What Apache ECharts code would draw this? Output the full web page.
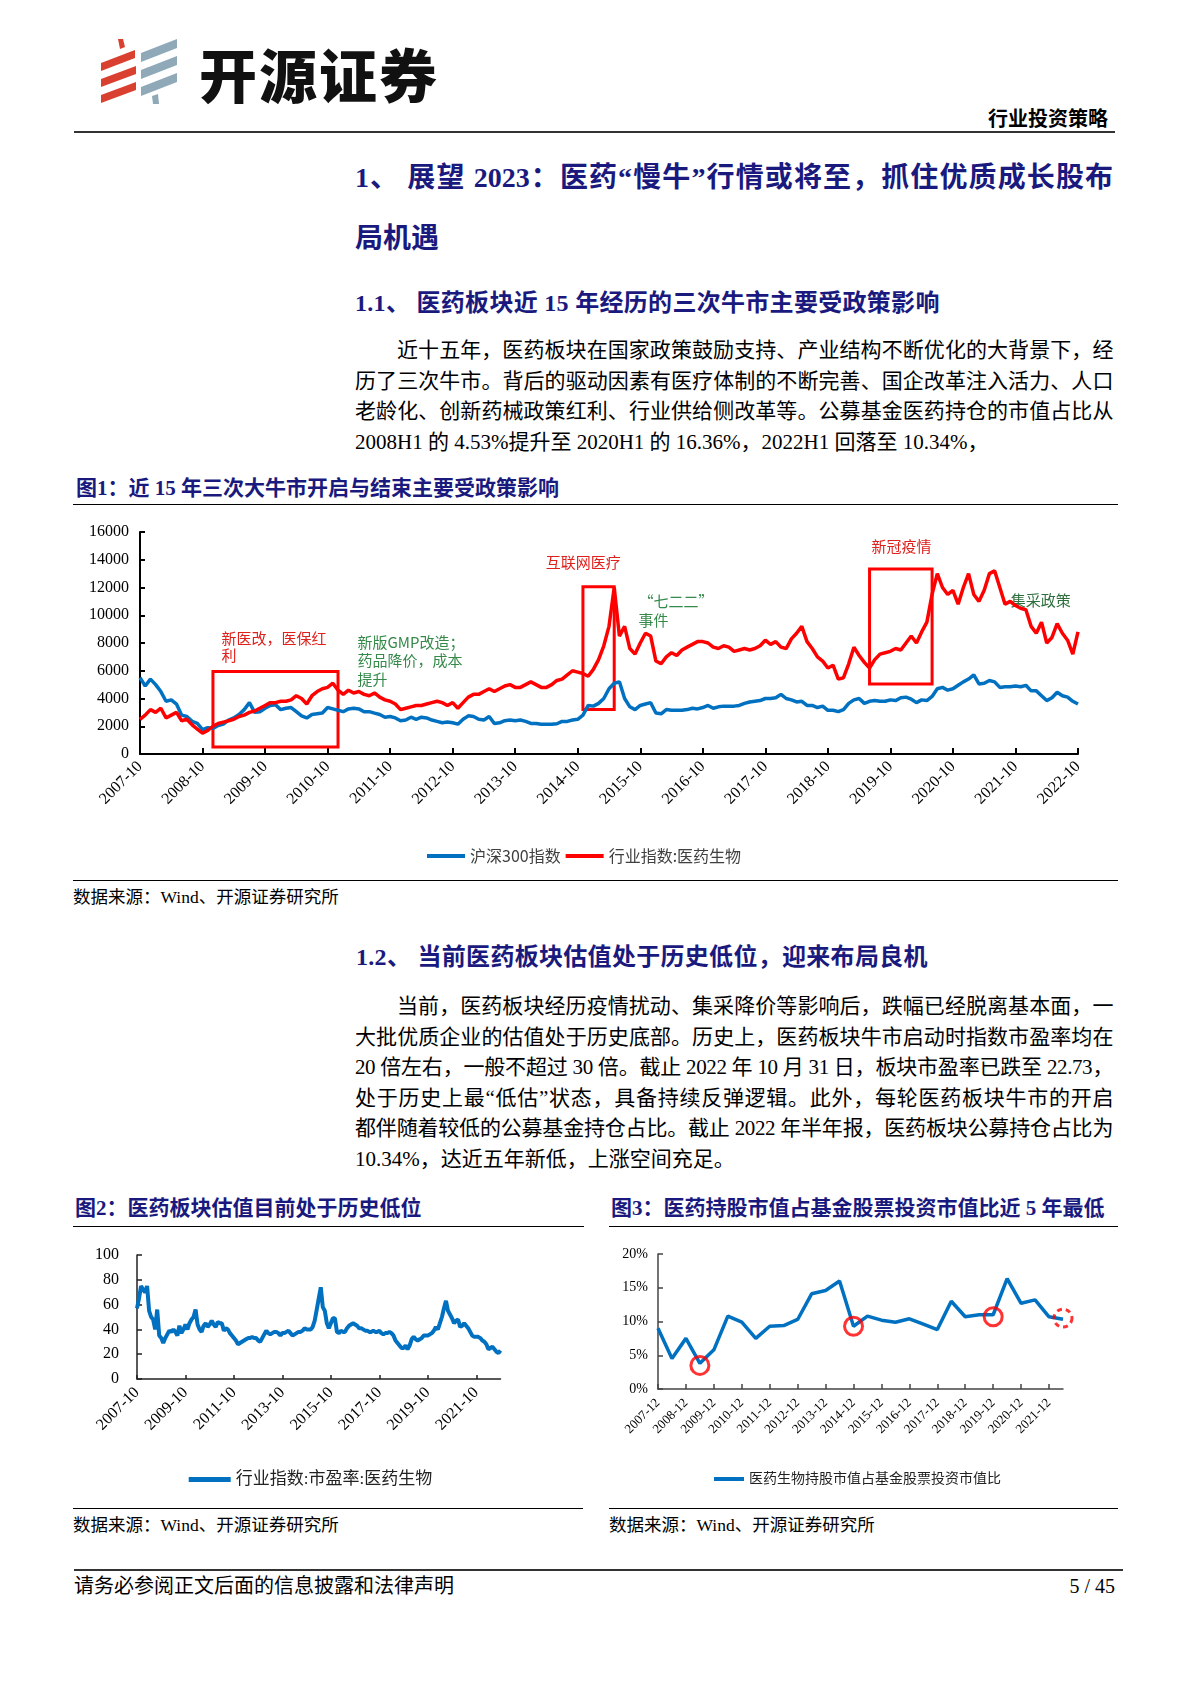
<!DOCTYPE html>
<html><head><meta charset="utf-8">
<script src="https://cdn.jsdelivr.net/npm/echarts@6/dist/echarts.min.js"></script>
<style>
html,body{margin:0;padding:0;background:#fff;}
#page{position:relative;width:1190px;height:1683px;overflow:hidden;background:#fff;font-family:"Liberation Serif","Noto Sans CJK SC",serif;color:#000;}
.abs{position:absolute;white-space:nowrap;}
.ln{position:absolute;left:355px;width:758px;height:30px;line-height:30px;font-size:21px;letter-spacing:-0.4px;}
.j{text-align:justify;text-align-last:justify;}
.navy{color:#1a1a7e;font-weight:bold;}
.rule{position:absolute;height:0;border-top:1.5px solid #000;}
.chart{position:absolute;}
</style></head>
<body><div id="page">
<svg class="abs" style="left:101px;top:39px" width="76" height="65" viewBox="0 0 76 65">
 <polygon points="17,0 22,0 24,8 19,10" fill="#d9402f"/>
 <polygon points="0,24 34,11 34,19 0,32" fill="#d9402f"/>
 <polygon points="0,40 35,27 35,35 0,48" fill="#d9402f"/>
 <polygon points="0,56 35,43 35,51 0,64" fill="#d9402f"/>
 <polygon points="40,14 76,0 76,9 40,23" fill="#8fa9b8"/>
 <polygon points="40,31 76,17 76,26 40,40" fill="#8fa9b8"/>
 <polygon points="40,48 76,34 76,43 40,57" fill="#8fa9b8"/>
 <polygon points="51,57 57,55 58,65 52,65" fill="#8fa9b8"/>
</svg>
<div class="abs" style="left:199px;top:38px;font-family:'Noto Sans CJK SC';font-weight:900;font-size:58px;line-height:70px;letter-spacing:2px;color:#111;">开源证券</div>
<div class="abs" style="right:82px;top:104px;font-family:'Noto Sans CJK SC';font-weight:bold;font-size:20px;line-height:28px;">行业投资策略</div>
<div class="rule" style="left:74px;top:131px;width:1041px;border-top:2px solid #333;"></div>

<div class="ln j navy" style="top:158px;height:40px;line-height:40px;font-size:28px;letter-spacing:0;">1、 展望 2023：医药“慢牛”行情或将至，抓住优质成长股布</div>
<div class="ln navy" style="top:219px;height:40px;line-height:40px;font-size:28px;letter-spacing:0;">局机遇</div>
<div class="ln navy" style="top:285px;height:36px;line-height:36px;font-size:24px;letter-spacing:0.3px;">1.1、 医药板块近 15 年经历的三次牛市主要受政策影响</div>

<div class="ln j" style="top:335px;text-indent:42px;">近十五年，医药板块在国家政策鼓励支持、产业结构不断优化的大背景下，经</div>
<div class="ln j" style="top:365.5px;">历了三次牛市。背后的驱动因素有医疗体制的不断完善、国企改革注入活力、人口</div>
<div class="ln j" style="top:396px;">老龄化、创新药械政策红利、行业供给侧改革等。公募基金医药持仓的市值占比从</div>
<div class="ln" style="top:426.5px;letter-spacing:0;">2008H1 的 4.53%提升至 2020H1 的 16.36%，2022H1 回落至 10.34%，</div>

<div class="abs navy" style="left:76px;top:473px;font-size:21px;line-height:30px;">图1：近 15 年三次大牛市开启与结束主要受政策影响</div>
<div class="rule" style="left:73px;top:504px;width:1045px;"></div>
<div id="c1" class="chart" style="left:60px;top:510px;width:1060px;height:362px;"></div>
<div class="rule" style="left:73px;top:880px;width:1045px;"></div>
<div class="abs" style="left:73px;top:884px;font-size:17.5px;line-height:26px;">数据来源：Wind、开源证券研究所</div>

<div class="ln navy" style="left:356px;top:939px;height:36px;line-height:36px;font-size:24px;letter-spacing:0.3px;">1.2、 当前医药板块估值处于历史低位，迎来布局良机</div>
<div class="ln j" style="top:991px;text-indent:42px;">当前，医药板块经历疫情扰动、集采降价等影响后，跌幅已经脱离基本面，一</div>
<div class="ln j" style="top:1021.6px;">大批优质企业的估值处于历史底部。历史上，医药板块牛市启动时指数市盈率均在</div>
<div class="ln j" style="top:1052.2px;">20 倍左右，一般不超过 30 倍。截止 2022 年 10 月 31 日，板块市盈率已跌至 22.73，</div>
<div class="ln j" style="top:1082.8px;">处于历史上最“低估”状态，具备持续反弹逻辑。此外，每轮医药板块牛市的开启</div>
<div class="ln j" style="top:1113.4px;">都伴随着较低的公募基金持仓占比。截止 2022 年半年报，医药板块公募持仓占比为</div>
<div class="ln" style="top:1144px;letter-spacing:0;">10.34%，达近五年新低，上涨空间充足。</div>

<div class="abs navy" style="left:75px;top:1193px;font-size:21px;line-height:30px;">图2：医药板块估值目前处于历史低位</div>
<div class="abs navy" style="left:611px;top:1193px;font-size:21px;line-height:30px;letter-spacing:0;">图3：医药持股市值占基金股票投资市值比近 5 年最低</div>
<div class="rule" style="left:73px;top:1226px;width:511px;"></div>
<div class="rule" style="left:609px;top:1226px;width:509px;"></div>
<div id="c2" class="chart" style="left:60px;top:1232px;width:520px;height:266px;"></div>
<div id="c3" class="chart" style="left:600px;top:1232px;width:520px;height:266px;"></div>
<div class="rule" style="left:73px;top:1508px;width:510px;"></div>
<div class="rule" style="left:609px;top:1508px;width:509px;"></div>
<div class="abs" style="left:73px;top:1512px;font-size:17.5px;line-height:26px;">数据来源：Wind、开源证券研究所</div>
<div class="abs" style="left:609px;top:1512px;font-size:17.5px;line-height:26px;">数据来源：Wind、开源证券研究所</div>

<div class="rule" style="left:74px;top:1569px;width:1049px;border-top:2px solid #333;"></div>
<div class="abs" style="left:74px;top:1572px;font-size:20px;line-height:28px;">请务必参阅正文后面的信息披露和法律声明</div>
<div class="abs" style="right:75px;top:1572px;font-size:20px;line-height:28px;">5 / 45</div>
</div>
<script>
// ---------- data ----------
const monthCats = [];
for (let y = 2007, m = 10; monthCats.length < 181;) {
  monthCats.push(y + '-' + (m < 10 ? '0' + m : m));
  m++; if (m > 12) { m = 1; y++; }
}
const csi300 = [
  5500, 4900, 5400,
  5000, 4500, 3800, 3900, 3600, 2800, 2700, 2350, 2200, 1750, 1900, 1850,
  2050, 2150, 2450, 2600, 2850, 3200, 3700, 3000, 3050, 3300, 3500, 3550,
  3200, 3300, 3350, 3050, 2750, 2600, 2850, 2900, 2950, 3350, 3250, 3150,
  3050, 3250, 3300, 3250, 3050, 3050, 2950, 2850, 2650, 2700, 2600, 2400,
  2450, 2650, 2500, 2650, 2600, 2450, 2350, 2250, 2300, 2250, 2150, 2500,
  2750, 2700, 2500, 2450, 2700, 2200, 2250, 2400, 2450, 2400, 2450, 2350,
  2200, 2200, 2150, 2150, 2150, 2180, 2350, 2350, 2450, 2500, 2800, 3500,
  3450, 3650, 4000, 4700, 5100, 5200, 4000, 3400, 3200, 3500, 3600, 3700,
  2950, 2900, 3200, 3150, 3150, 3150, 3200, 3300, 3250, 3350, 3500, 3300,
  3400, 3450, 3450, 3450, 3500, 3650, 3750, 3800, 3850, 4000, 4000, 4050,
  4300, 4000, 3900, 3750, 3800, 3500, 3500, 3350, 3450, 3150, 3150, 3050,
  3200, 3650, 3900, 4000, 3650, 3800, 3850, 3800, 3800, 3900, 3850, 4050,
  4100, 3950, 3700, 3900, 3850, 4150, 4700, 4800, 4600, 4700, 4950, 5200,
  5400, 5700, 5050, 5100, 5300, 5200, 4800, 4850, 4850, 4900, 4850, 4950,
  4550, 4550, 4200, 3850, 4050, 4450, 4200, 4100, 3800, 3600
];
const pharmaIdx = [
  2500, 2800, 3200,
  3000, 3300, 2600, 2800, 3000, 2400, 2500, 2100, 1800, 1500, 1700, 2000,
  2200, 2300, 2400, 2500, 2700, 2800, 3000, 3100, 3300, 3500, 3700, 3700,
  3800, 3800, 3900, 4200, 4000, 3600, 4200, 4500, 4700, 4800, 5100, 4600,
  4300, 4600, 4400, 4500, 4300, 4200, 4400, 4100, 3900, 3800, 3600, 3200,
  3300, 3400, 3500, 3500, 3600, 3700, 3800, 3700, 3500, 3700, 3300, 3700,
  4100, 4300, 4300, 4500, 4700, 4500, 4700, 4900, 5000, 4800, 4800, 5000,
  5200, 5000, 4800, 4800, 5000, 5300, 5400, 5700, 6000, 5900, 5800, 5600,
  6100, 6800, 7800, 9200, 12000, 8500, 9200, 7600, 7200, 8000, 8700, 8500,
  6700, 6500, 7000, 7300, 7100, 7500, 7700, 7900, 8100, 8100, 8000, 7700,
  7600, 7800, 7700, 7400, 7500, 7600, 7500, 7600, 7800, 8200, 7900, 8100,
  7700, 7600, 8300, 8700, 9200, 8100, 7600, 7000, 6700, 6200, 6400, 5400,
  5500, 6500, 7700, 7100, 6600, 6200, 6800, 7200, 7300, 7400, 7600, 7500,
  8000, 8500, 8000, 8800, 9500, 11500, 13000, 12000, 11500, 11800, 10800, 12000,
  13000, 11500, 11000, 11800, 13000, 13200, 12000, 10800, 11000, 10700, 10500, 10400,
  9200, 8700, 9500, 8000, 8400, 9400, 8700, 8200, 7200, 8800
];
const peRatio = [
  57, 65, 75,
  72, 70, 75, 55, 50, 48, 40, 56, 35, 33, 29, 33,
  36, 39, 38, 40, 38, 35, 43, 37, 40, 44, 40, 45,
  48, 50, 56, 44, 40, 38, 43, 45, 42, 44, 47, 44,
  42, 46, 45, 45, 39, 41, 40, 37, 35, 33, 31, 28,
  29, 30, 31, 32, 33, 33, 34, 33, 33, 31, 30, 33,
  36, 39, 37, 36, 37, 38, 38, 37, 35, 37, 37, 38,
  39, 37, 35, 36, 37, 38, 38, 39, 41, 40, 40, 40,
  42, 47, 56, 65, 74, 58, 55, 45, 41, 45, 49, 49,
  38, 37, 39, 38, 38, 41, 43, 44, 45, 44, 43, 41,
  41, 40, 39, 39, 38, 38, 39, 38, 38, 39, 37, 36,
  37, 37, 38, 37, 35, 31, 29, 27, 25, 25, 27, 24,
  27, 32, 34, 32, 31, 32, 33, 35, 35, 35, 36, 37,
  39, 42, 40, 45, 50, 57, 63, 55, 52, 49, 45, 47,
  48, 42, 43, 45, 43, 41, 38, 35, 34, 34, 34, 33,
  31, 30, 28, 24, 25, 26, 24, 22, 21, 23
];
const halfYears = ['2007-12','2008-06','2008-12','2009-06','2009-12','2010-06','2010-12','2011-06','2011-12','2012-06',
  '2012-12','2013-06','2013-12','2014-06','2014-12','2015-06','2015-12','2016-06','2016-12','2017-06',
  '2017-12','2018-06','2018-12','2019-06','2019-12','2020-06','2020-12','2021-06','2021-12','2022-06'];
const holdShare = [9.0, 4.53, 7.5, 3.8, 5.8, 10.8, 9.9, 7.5, 9.3, 9.4,
  10.3, 14.1, 14.6, 16.0, 9.3, 10.8, 10.2, 9.9, 10.4, 9.6,
  8.8, 13.0, 10.7, 11.0, 11.0, 16.36, 12.7, 13.2, 10.7, 10.34];
const lowMarks = [['2009-06', 3.5], ['2014-12', 9.3], ['2019-12', 10.7]];
const lowMarkNow = [['2022-06', 10.5]];
const bullBoxes = [
  [['2008-12', 500], ['2010-12', 5950]],
  [['2014-11', 3200], ['2015-05', 12050]],
  [['2019-06', 5050], ['2020-06', 13330]]
];

// ---------- styles ----------
const SERIF = '"Liberation Serif", "Noto Sans CJK SC", serif';
const SANS = '"Noto Sans CJK SC", sans-serif';
const BLUE = '#0070c0', RED = '#ff0000';
const TXT_RED = '#e0201c', TXT_GREEN = '#358a4a';
const plain = v => String(v);

function axisBase(color, w) {
  return {
    axisLine: { show: true, lineStyle: { color: color, width: w } },
    axisTick: { show: true, inside: true, length: 5, lineStyle: { color: color, width: w } },
    splitLine: { show: false }
  };
}

// ---------- chart 1 ----------
const c1 = echarts.init(document.getElementById('c1'));
c1.setOption({
  animation: false,
  grid: { left: 80, top: 22, width: 938, height: 222, containLabel: false, outerBoundsMode: 'none' },
  legend: {
    left: 362, top: 333, icon: 'rect', itemWidth: 38, itemHeight: 4, itemGap: 5,
    textStyle: { fontSize: 16, color: '#404040', fontFamily: SANS },
    data: ['沪深300指数', '行业指数:医药生物']
  },
  xAxis: Object.assign(axisBase('#000', 2), {
    type: 'category', data: monthCats, boundaryGap: false,
    axisTick: { show: true, inside: true, interval: 11, length: 6, lineStyle: { color: '#000', width: 2 } },
    axisLabel: { interval: 11, rotate: 45, margin: 10, fontSize: 16, color: '#000', fontFamily: SERIF }
  }),
  yAxis: Object.assign(axisBase('#000', 2), {
    type: 'value', min: 0, max: 16000, interval: 2000,
    axisLabel: { margin: 11, fontSize: 16, color: '#000', fontFamily: SERIF, formatter: plain }
  }),
  series: [
    { name: '沪深300指数', type: 'line', data: csi300, symbol: 'none', lineStyle: { color: BLUE, width: 3.5 }, itemStyle: { color: BLUE } },
    {
      name: '行业指数:医药生物', type: 'line', data: pharmaIdx, symbol: 'none', lineStyle: { color: RED, width: 3.5 }, itemStyle: { color: RED },
      markArea: {
        silent: true,
        itemStyle: { color: 'rgba(0,0,0,0)', borderColor: RED, borderWidth: 3 },
        data: bullBoxes.map(b => [{ xAxis: b[0][0], yAxis: b[0][1] }, { xAxis: b[1][0], yAxis: b[1][1] }])
      }
    }
  ],
  graphic: [
    { type: 'text', x: 485.7, y: 52.7, style: { text: '互联网医疗', fill: TXT_RED, fontSize: 15, fontFamily: SANS, verticalAlign: 'middle' } },
    { type: 'text', x: 161.4, y: 119.6, style: { text: '新医改，医保红\n利', fill: TXT_RED, fontSize: 15, lineHeight: 17.4, fontFamily: SANS, verticalAlign: 'top' } },
    { type: 'text', x: 297.5, y: 123.2, style: { text: '新版GMP改造；\n药品降价，成本\n提升', fill: TXT_GREEN, fontSize: 15, lineHeight: 18.3, fontFamily: SANS, verticalAlign: 'top' } },
    { type: 'text', x: 578.6, y: 82.5, style: { text: '“七二二”\n事件', fill: TXT_GREEN, fontSize: 15, lineHeight: 18.3, fontFamily: SANS, verticalAlign: 'top' } },
    { type: 'text', x: 811.4, y: 36.7, style: { text: '新冠疫情', fill: TXT_RED, fontSize: 15, fontFamily: SANS, verticalAlign: 'middle' } },
    { type: 'text', x: 950.7, y: 90.7, style: { text: '集采政策', fill: '#2d6e3c', fontSize: 15, fontFamily: SANS, verticalAlign: 'middle' } }
  ]
});

// ---------- chart 2 ----------
const c2 = echarts.init(document.getElementById('c2'));
c2.setOption({
  animation: false,
  grid: { left: 77, top: 23, width: 363.5, height: 124, containLabel: false, outerBoundsMode: 'none' },
  legend: {
    left: 123.7, top: 234, icon: 'rect', itemWidth: 42, itemHeight: 5, itemGap: 5,
    textStyle: { fontSize: 17, color: '#222', fontFamily: SERIF },
    data: ['行业指数:市盈率:医药生物']
  },
  xAxis: Object.assign(axisBase('#222', 1.5), {
    type: 'category', data: monthCats, boundaryGap: false,
    axisTick: { show: true, inside: true, interval: 23, length: 4, lineStyle: { color: '#222', width: 1.5 } },
    axisLabel: { interval: 23, rotate: 45, margin: 11, fontSize: 16, color: '#000', fontFamily: SERIF }
  }),
  yAxis: Object.assign(axisBase('#222', 1.5), {
    type: 'value', min: 0, max: 100, interval: 20,
    axisLabel: { margin: 18, fontSize: 16, color: '#000', fontFamily: SERIF, formatter: plain }
  }),
  series: [
    { name: '行业指数:市盈率:医药生物', type: 'line', data: peRatio, symbol: 'none', lineStyle: { color: BLUE, width: 4 }, itemStyle: { color: BLUE } }
  ]
});

// ---------- chart 3 ----------
const c3 = echarts.init(document.getElementById('c3'));
c3.setOption({
  animation: false,
  grid: { left: 58, top: 22, width: 405, height: 135, containLabel: false, outerBoundsMode: 'none' },
  legend: {
    left: 109, top: 235, icon: 'rect', itemWidth: 30, itemHeight: 4, itemGap: 5,
    textStyle: { fontSize: 14, color: '#222', fontFamily: SERIF },
    data: ['医药生物持股市值占基金股票投资市值比']
  },
  xAxis: Object.assign(axisBase('#444', 1.5), {
    type: 'category', data: halfYears, boundaryGap: false,
    axisTick: { show: true, inside: true, interval: 1, length: 5, lineStyle: { color: '#444', width: 1.5 } },
    axisLabel: { interval: 1, rotate: 45, margin: 12, fontSize: 13, color: '#000', fontFamily: SERIF }
  }),
  yAxis: Object.assign(axisBase('#444', 1.5), {
    type: 'value', min: 0, max: 20, interval: 5,
    axisLabel: { margin: 10, fontSize: 14, color: '#000', fontFamily: SERIF, formatter: '{value}%' }
  }),
  series: [
    { name: '医药生物持股市值占基金股票投资市值比', type: 'line', data: holdShare, symbol: 'none', lineStyle: { color: BLUE, width: 3.5 }, itemStyle: { color: BLUE } },
    { name: 'lowMarks', type: 'scatter', data: lowMarks, symbol: 'circle', symbolSize: 18, z: 5,
      itemStyle: { color: 'rgba(0,0,0,0)', borderColor: RED, borderWidth: 3 } },
    { name: 'lowMarkNow', type: 'scatter', data: lowMarkNow, symbol: 'circle', symbolSize: 18, z: 5,
      itemStyle: { color: 'rgba(0,0,0,0)', borderColor: RED, borderWidth: 3, borderType: [5, 4] } }
  ]
});
</script>
</body></html>
